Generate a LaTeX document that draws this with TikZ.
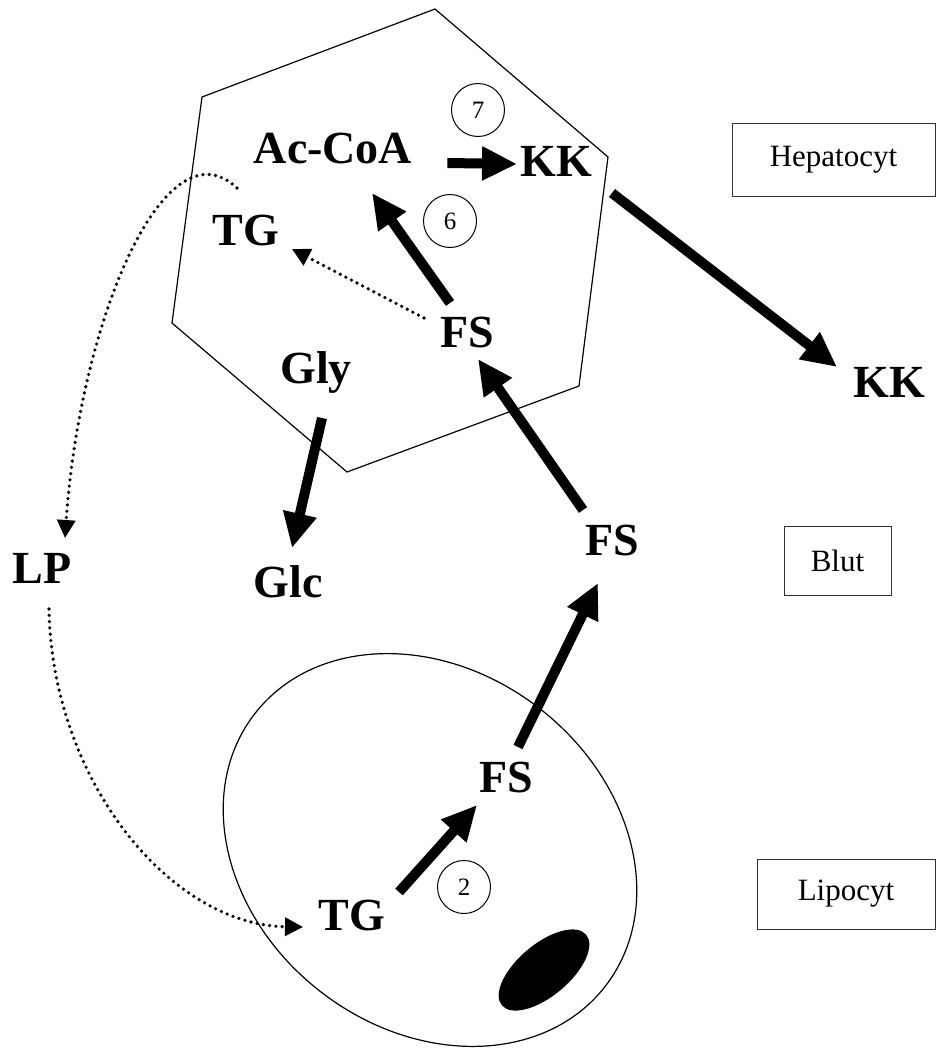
\documentclass[tikz,border=0pt]{standalone}
\usepackage{fontspec}
\setmainfont{Liberation Serif}
\usetikzlibrary{arrows.meta}
\begin{document}
\begin{tikzpicture}[x=1pt,y=-1pt,
  lbl/.style={font=\fontsize{46}{46}\selectfont\bfseries, inner sep=0pt, text height=31pt, text depth=0pt},
  box/.style={draw=black!80, line width=1pt, font=\fontsize{31}{31}\selectfont, inner sep=0pt},
  num/.style={draw, circle, line width=1pt, minimum size=53pt, inner sep=0pt, font=\fontsize{25}{25}\selectfont},
  big/.style={line width=10pt, -{Triangle[length=35pt,width=32pt]}},
  dots/.style={line width=3.6pt, line cap=round, dash pattern=on 0pt off 6.3pt, -{Triangle[length=18pt,width=18pt]}},
  cell/.style={line width=1.2pt},
]
\useasboundingbox (0,0) rectangle (937,1050);
% cells
\draw[cell] (435,9) -- (608,157) -- (579,386) -- (347,472) -- (172,323) -- (202,97) -- cycle;
\draw[cell, shift={(430,850)}, rotate=-38] (0,0) ellipse [x radius=222pt, y radius=179pt];
\fill[shift={(544,970)}, rotate=40] (0,0) ellipse [x radius=55pt, y radius=26pt];
% labels
\node[lbl] (acoa) at (333,148) {Ac-CoA};
\node[lbl] (kkh) at (556,161) {KK};
\node[lbl] (tgh) at (246,230) {TG};
\node[lbl] (fsh) at (467,332) {FS};
\node[lbl] (gly) at (316,368) {Gly};
\node[lbl] (kko) at (889,382) {KK};
\node[lbl] (fsb) at (612,540) {FS};
\node[lbl] (glc) at (288,582) {Glc};
\node[lbl] (lp) at (42,568) {LP};
\node[lbl] (fsl) at (506,777) {FS};
\node[lbl] (tgl) at (352,915) {TG};
% numbers
\node[num] (n7) at (478,110) {7};
\node[num] (n6) at (450,221) {6};
\node[num] (n2) at (464,887) {2};
% boxes
\node[box, minimum width=203pt, minimum height=73pt] (hep) at (833.5,159.5) {Hepatocyt};
\node[box, minimum width=107pt, minimum height=69pt] (blut) at (837.5,560.5) {Blut};
\node[box, minimum width=178pt, minimum height=70pt] (lip) at (846,894) {Lipocyt};
% thick arrows
\draw[big] ([shift={(35,15)}]acoa.east) -- ([shift={(-3,3)}]kkh.west);
\draw[big] ([shift={(-17,-29)}]fsh.center) -- ([shift={(39,45)}]acoa.center);
\draw[big] ([shift={(-29,-30)}]fsb.center) -- ([shift={(11,27)}]fsh.center);
\draw[big] ([shift={(6,50)}]gly.center) -- ([shift={(4,-34)}]glc.center);
\draw[big] ([shift={(56,32)}]kkh.center) -- ([shift={(-52,-15)}]kko.center);
\draw[big] ([shift={(12,-30)}]fsl.center) -- ([shift={(-14,43)}]fsb.center);
\draw[big] ([shift={(47,-23)}]tgl.center) -- ([shift={(-29,28)}]fsl.center);
% dotted arrows
\draw[dots] ([shift={(-43,-14)}]fsh.center) -- ([shift={(46,19)}]tgh.center);
\draw[dots] ([shift={(-9,-42)}]tgh.center) .. controls (165,120) and (80,320) .. ([shift={(23,-30)}]lp.center);
\draw[dots] ([shift={(7,41)}]lp.center) .. controls (52,780) and (170,925) .. ([shift={(-49,12)}]tgl.center);
\end{tikzpicture}
\end{document}
